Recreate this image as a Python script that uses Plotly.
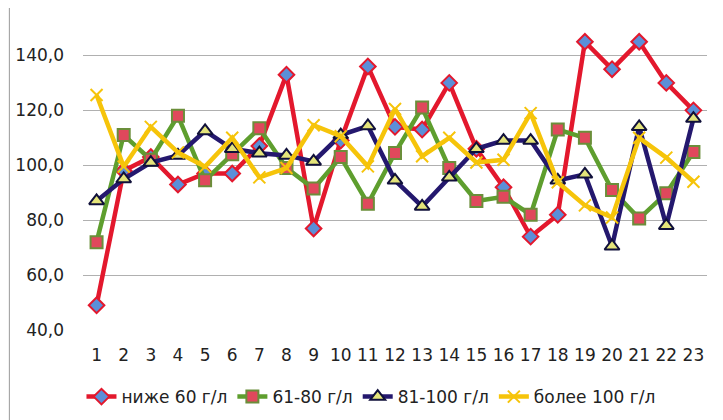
import plotly.graph_objects as go

categories = list(range(1, 24))
tick_labels = [str(c) for c in categories]

below60 = [49, 98, 103, 93, 97, 97, 107, 133, 77, 109, 136, 114, 113, 130, 106, 92, 74, 82, 145, 135, 145, 130, 120]
g61_80 = [72, 111, 102, 118, 94.5, 104, 113.5, 99, 91.5, 103, 86, 104.5, 121, 99, 87, 88.5, 82, 113, 110, 91, 80.6, 89.8, 104.8]
g81_100 = [87, 95, 101, 103.6, 112.5, 106, 104.4, 103.6, 101.4, 111, 114.3, 94.5, 85, 95.6, 106, 109, 109, 94.5, 96.7, 70.5, 114, 78, 117]
above100 = [125.6, 99.5, 114, 104.7, 99.5, 110, 95.6, 99, 114.6, 110.6, 99.6, 120.5, 103.3, 110, 101, 102, 119, 93.8, 85.4, 81, 110, 102.8, 94]

names = ["ниже 60 г/л", "61-80 г/л", "81-100 г/л", "более 100 г/л"]
y_ticks = [40, 60, 80, 100, 120, 140]

fig = go.Figure()
fig.add_trace(go.Scatter(x=categories, y=below60, name=names[0], mode="lines+markers",
                         line=dict(color="#E3182D", width=4.5),
                         marker=dict(symbol="diamond", size=12, color="#5B8FD8",
                                     line=dict(color="#E3182D", width=2))))
fig.add_trace(go.Scatter(x=categories, y=g61_80, name=names[1], mode="lines+markers",
                         line=dict(color="#5E9E2E", width=4.5),
                         marker=dict(symbol="square", size=12, color="#E0485C",
                                     line=dict(color="#6B8E3A", width=2))))
fig.add_trace(go.Scatter(x=categories, y=g81_100, name=names[2], mode="lines+markers",
                         line=dict(color="#24186E", width=4.5),
                         marker=dict(symbol="triangle-up", size=13, color="#E4E47A",
                                     line=dict(color="#10103A", width=2))))
fig.add_trace(go.Scatter(x=categories, y=above100, name=names[3], mode="lines+markers",
                         line=dict(color="#F6C40A", width=4.5),
                         marker=dict(symbol="x-thin", size=12, color="#F6C40A",
                                     line=dict(color="#F6C40A", width=2))))

fig.update_layout(
    width=723, height=420,
    margin=dict(l=75, r=24, t=20, b=98, autoexpand=False),
    paper_bgcolor="white", plot_bgcolor="white",
    separators=", ",
    font=dict(family="DejaVu Sans, Liberation Sans, sans-serif", color="#222222"),
    showlegend=True,
    legend=dict(orientation="h", x=0.4615, xanchor="center", y=-0.222, yanchor="middle",
                font=dict(size=17), itemwidth=30, tracegroupgap=0),
    xaxis=dict(range=[0.5, 23.5], tickmode="array", tickvals=categories, ticktext=tick_labels,
               showgrid=False, zeroline=False, showline=False, ticks="", automargin=False,
               ticklabelstandoff=13, tickfont=dict(size=17)),
    yaxis=dict(range=[40, 150], tickmode="array", tickvals=y_ticks, tickformat=".1f",
               showgrid=True, gridcolor="#B0B0B0", gridwidth=1, zeroline=False, automargin=False,
               showline=False, ticks="", ticklabelstandoff=18, tickfont=dict(size=17)),
)

fig.add_shape(type="line", xref="paper", yref="paper", x0=-0.118, x1=-0.118, y0=-0.35, y1=1.1,
              line=dict(color="#9A9A9A", width=1))

fig.write_html("out.html")
